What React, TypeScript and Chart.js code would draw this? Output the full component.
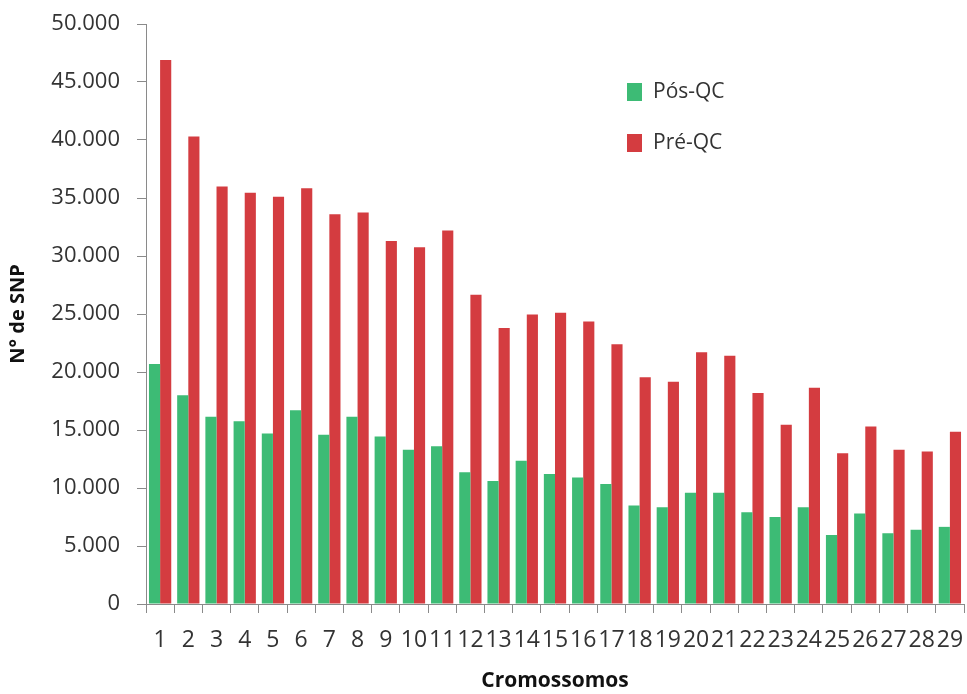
import React, { useEffect, useRef } from "react";
import { Chart, registerables } from "chart.js";

Chart.register(...registerables);

const categories = [
  "1", "2", "3", "4", "5", "6", "7", "8", "9", "10",
  "11", "12", "13", "14", "15", "16", "17", "18", "19", "20",
  "21", "22", "23", "24", "25", "26", "27", "28", "29",
];

const posQC = [
  20700, 18000, 16150, 15750, 14700, 16700, 14600, 16150, 14450, 13300,
  13600, 11350, 10600, 12350, 11200, 10900, 10350, 8500, 8350, 9600,
  9600, 7900, 7500, 8350, 5950, 7800, 6100, 6400, 6650,
];

const preQC = [
  46900, 40300, 36000, 35450, 35100, 35850, 33600, 33750, 31300, 30750,
  32200, 26650, 23800, 24950, 25100, 24350, 22400, 19550, 19150, 21700,
  21400, 18200, 15450, 18650, 13000, 15300, 13300, 13150, 14850,
];

const seriesLabels = ["Pós-QC", "Pré-QC"];
const seriesColors = ["#3dbb75", "#d43c40"];

const yMin = 0;
const yMax = 50000;
const yStep = 5000;

const xTitle = "Cromossomos";
const yTitle = "N° de SNP";

const FONT = '"Open Sans", "DejaVu Sans", sans-serif';

const insideLegend = {
  id: "insideLegend",
  afterDraw(chart: any) {
    const { ctx, chartArea } = chart;
    const x = chartArea.left + 481;
    const rowY = [chartArea.top + 68, chartArea.top + 119];
    chart.data.datasets.forEach((ds: any, i: number) => {
      const cy = rowY[i];
      ctx.save();
      ctx.fillStyle = ds.backgroundColor;
      ctx.fillRect(x, cy - 9, 15, 18);
      ctx.fillStyle = "#333333";
      ctx.font = `21px ${FONT}`;
      ctx.textBaseline = "middle";
      ctx.textAlign = "left";
      ctx.fillText(ds.label, x + 26, cy);
      ctx.restore();
    });
  },
};

export default function App() {
  const canvasRef = useRef<HTMLCanvasElement | null>(null);

  useEffect(() => {
    if (!canvasRef.current) return;
    const chart = new Chart(canvasRef.current, {
      type: "bar",
      data: {
        labels: categories,
        datasets: [
          {
            label: seriesLabels[0],
            data: posQC,
            backgroundColor: seriesColors[0],
            categoryPercentage: 0.79,
            barPercentage: 1.0,
          },
          {
            label: seriesLabels[1],
            data: preQC,
            backgroundColor: seriesColors[1],
            categoryPercentage: 0.79,
            barPercentage: 1.0,
          },
        ],
      },
      options: {
        animation: false,
        responsive: true,
        maintainAspectRatio: false,
        layout: { padding: { top: 24, right: 3, bottom: 0, left: 0 } },
        plugins: {
          legend: { display: false },
          tooltip: { enabled: false },
        },
        scales: {
          x: {
            grid: {
              display: true,
              drawOnChartArea: false,
              drawTicks: true,
              tickLength: 9,
              color: "#8a8a8a",
            },
            border: { display: true, color: "#8a8a8a", width: 1 },
            ticks: {
              autoSkip: false,
              maxRotation: 0,
              minRotation: 0,
              padding: 14,
              color: "#333333",
              font: { family: FONT, size: 23 },
            },
            title: {
              display: true,
              text: xTitle,
              color: "#111111",
              font: { family: FONT, size: 21, weight: "bold" },
              padding: { top: 0, bottom: 0 },
            },
            afterFit(scale: any) {
              scale.height = 90;
              scale.paddingLeft = 0;
              scale.paddingRight = 0;
            },
          },
          y: {
            min: yMin,
            max: yMax,
            grid: {
              display: true,
              drawOnChartArea: false,
              drawTicks: true,
              tickLength: 9,
              color: "#8a8a8a",
            },
            border: { display: true, color: "#8a8a8a", width: 1 },
            ticks: {
              stepSize: yStep,
              padding: 17,
              color: "#333333",
              font: { family: FONT, size: 22 },
              callback: (v: any) => Number(v).toLocaleString("pt-BR"),
            },
            title: {
              display: true,
              text: yTitle,
              color: "#111111",
              font: { family: FONT, size: 20, weight: "bold" },
              padding: { top: 6, bottom: 0 },
            },
            afterFit(scale: any) {
              scale.width = 146;
              scale.paddingTop = 0;
              scale.paddingBottom = 0;
            },
          },
        },
      },
      plugins: [insideLegend],
    });
    return () => chart.destroy();
  }, []);

  return (
    <div
      style={{
        position: "absolute",
        left: 0,
        top: 0,
        width: "967px",
        height: "694px",
        background: "#ffffff",
      }}
    >
      <canvas ref={canvasRef} />
    </div>
  );
}
